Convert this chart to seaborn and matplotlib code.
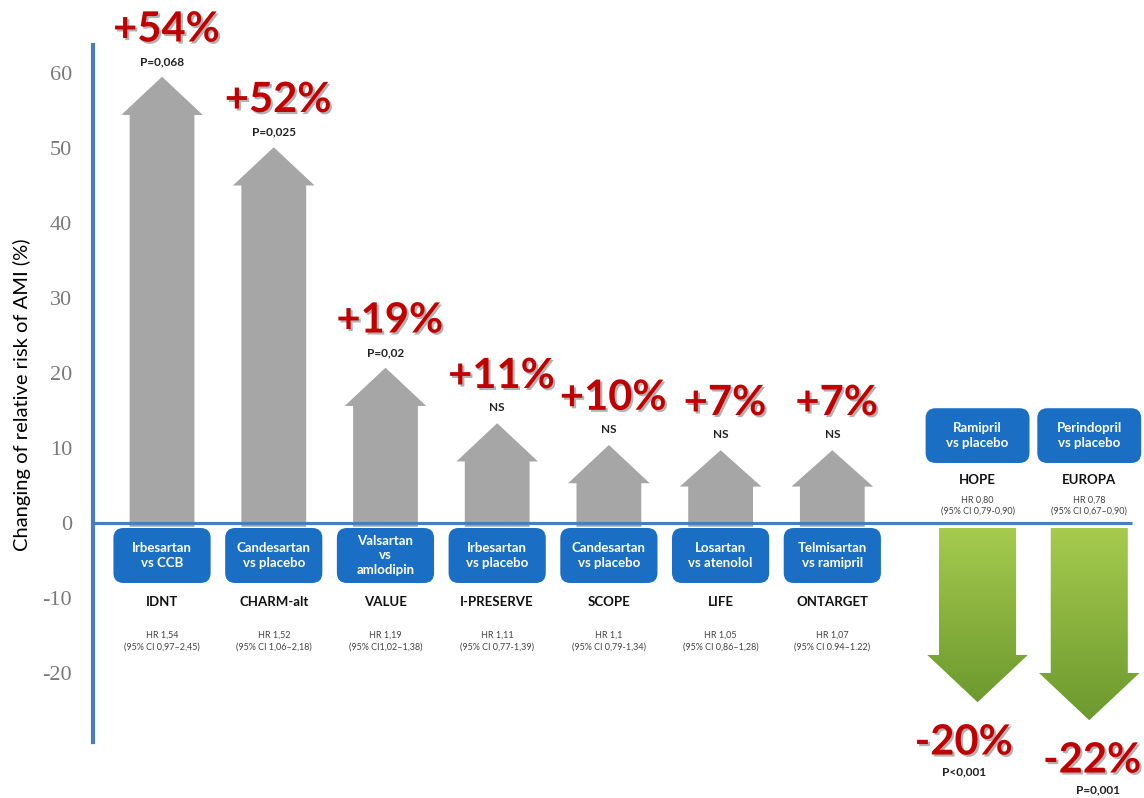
import matplotlib
matplotlib.use("Agg")
import matplotlib.pyplot as plt
import matplotlib.patheffects as pe
from matplotlib.patches import Polygon, FancyBboxPatch
import numpy as np
import seaborn as sns

trials = ['IDNT', 'CHARM-alt', 'VALUE', 'I-PRESERVE', 'SCOPE', 'LIFE', 'ONTARGET', 'HOPE', 'EUROPA']
comparisons = ['Irbesartan\nvs CCB', 'Candesartan\nvs placebo', 'Valsartan\nvs\namlodipin',
               'Irbesartan\nvs placebo', 'Candesartan\nvs placebo', 'Losartan\nvs atenolol',
               'Telmisartan\nvs ramipril', 'Ramipril\nvs placebo', 'Perindopril\nvs placebo']
change_labels = ['+54%', '+52%', '+19%', '+11%', '+10%', '+7%', '+7%', '-20%', '-22%']
# arrow lengths as drawn against the chart's own y axis
arrow_len = [59.5, 50.1, 20.7, 13.3, 10.4, 9.7, 9.7, -23.9, -26.3]
p_values = ['P=0,068', 'P=0,025', 'P=0,02', 'NS', 'NS', 'NS', 'NS', 'P<0,001', 'P=0,001']
hr = ['HR 1,54', 'HR 1,52', 'HR 1,19', 'HR 1,11', 'HR 1,1', 'HR 1,05', 'HR 1,07', 'HR 0,80', 'HR 0,78']
ci = ['(95% CI 0,97–2,45)', '(95% CI 1,06–2,18)', '(95% CI1,02–1,38)', '(95% CI 0,77-1,39)',
      '(95% CI 0,79-1,34)', '(95% CI 0,86–1,28)', '(95% CI 0.94–1.22)', '(95% CI 0,79-0,90)',
      '(95% CI 0,67–0,90)']
yticks = [60, 50, 40, 30, 20, 10, 0, -10, -20]

sns.set_theme(style="white")
plt.rcParams['font.family'] = ['Lato', 'DejaVu Sans']

RED = '#c00000'
BLUE_BOX = '#1a6fc4'
BLUE_LINE = '#4a7ebb'
GRAY = '#a6a6a6'

fig = plt.figure(figsize=(11.44, 7.98), dpi=100)
ax = fig.add_axes([93 / 1144, 0, 1 - 93 / 1144, 1])
xlim = (-0.618, 8.79)
ylim = (-36.67, 69.73)

lens = np.array(arrow_len)
xs = np.arange(len(trials)) + np.where(lens < 0, 0.3, 0.0)

# arrows
for x, t in zip(xs, lens):
    if t > 0:
        s, h = 0.29, 0.365
        L = min(5.1, 0.5 * t)
        y0 = -0.5
        pts = [(x - s, y0), (x - s, t - L), (x - h, t - L), (x, t),
               (x + h, t - L), (x + s, t - L), (x + s, y0)]
        ax.add_patch(Polygon(pts, closed=True, facecolor=GRAY, edgecolor='none', zorder=2))
    else:
        s, h = 0.345, 0.45
        L = 6.3
        y0 = -0.67
        pts = [(x - s, y0), (x - s, t + L), (x - h, t + L), (x, t),
               (x + h, t + L), (x + s, t + L), (x + s, y0)]
        poly = Polygon(pts, closed=True, facecolor='none', edgecolor='none', zorder=2)
        ax.add_patch(poly)
        grad = np.linspace(0, 1, 256).reshape(-1, 1)
        cmap = matplotlib.colors.LinearSegmentedColormap.from_list('g', ['#a6cb4e', '#6c992e'])
        im = ax.imshow(grad, cmap=cmap, extent=(x - h, x + h, t, y0), origin='upper',
                       aspect='auto', zorder=2)
        im.set_clip_path(poly)

shadow = [pe.withSimplePatchShadow(offset=(1.5, -1.5), shadow_rgbFace='#555555', alpha=0.45)]

# labels above / below arrows
for x, t, lab, p in zip(xs, lens, change_labels, p_values):
    if t > 0:
        ax.annotate(lab, (x, t), xytext=(3, 34), textcoords='offset points', ha='center',
                    va='center', fontsize=30, fontweight='bold', color=RED, path_effects=shadow)
        ax.annotate(p, (x, t), xytext=(0, 11), textcoords='offset points', ha='center',
                    va='center', fontsize=8.5, fontweight='bold', color='#222222')
    else:
        ax.annotate(lab, (x, t), xytext=(-10 if t > -25 else 2, -29), textcoords='offset points',
                    ha='center', va='center', fontsize=30, fontweight='bold', color=RED,
                    path_effects=shadow)
        ax.annotate(p, (x, t), xytext=(-10 if t > -25 else 6, -50), textcoords='offset points',
                    ha='center', va='center', fontsize=8.5, fontweight='bold', color='#222222')

# blue comparison boxes, trial names and HR text
asp = (111.7 / 7.5)
for x, t, comp, name, h1, h2 in zip(xs, lens, comparisons, trials, hr, ci):
    if t > 0:
        bw, top, bot = 0.87, -0.67, -8.0
        yn, yh, yc = -10.6, -14.9, -16.5
    else:
        bw, top, bot = 0.93, 15.3, 8.0
        yn, yh, yc = 5.7, 3.1, 1.6
    box = FancyBboxPatch((x - bw / 2, bot), bw, top - bot,
                         boxstyle='round,pad=0,rounding_size=0.09', mutation_aspect=asp,
                         facecolor=BLUE_BOX, edgecolor='none', zorder=4)
    ax.add_patch(box)
    ax.text(x, (top + bot) / 2, comp, ha='center', va='center', color='white',
            fontsize=9.5, fontweight='bold', linespacing=1.25, zorder=5)
    ax.text(x, yn, name, ha='center', va='center', fontsize=9.5, fontweight='bold', color='#111111')
    ax.text(x, yh, h1, ha='center', va='center', fontsize=6.5, color='#444444')
    ax.text(x, yc, h2, ha='center', va='center', fontsize=6.5, color='#444444')

# zero line
ax.hlines(0, xlim[0], 8.68, color=BLUE_LINE, lw=2.3, zorder=3)

ax.set_xlim(*xlim)
ax.set_ylim(*ylim)
ax.set_xticks([])
ax.set_yticks(yticks)
ax.set_yticklabels([str(v) for v in yticks], fontfamily='Liberation Serif', fontsize=16,
                   color='#7a7a7a')
ax.tick_params(axis='y', length=0, pad=15)
for sp in ['top', 'right', 'bottom']:
    ax.spines[sp].set_visible(False)
ax.spines['left'].set_color(BLUE_LINE)
ax.spines['left'].set_linewidth(3)
ax.spines['left'].set_bounds(-29.2, 63.7)
ax.set_facecolor('white')

fig.text(22 / 1144, 1 - 395 / 798, 'Changing of relative risk of AMI (%)', rotation=90,
         ha='center', va='center', fontsize=14.5, color='black')

plt.savefig('out.png', dpi=100)
